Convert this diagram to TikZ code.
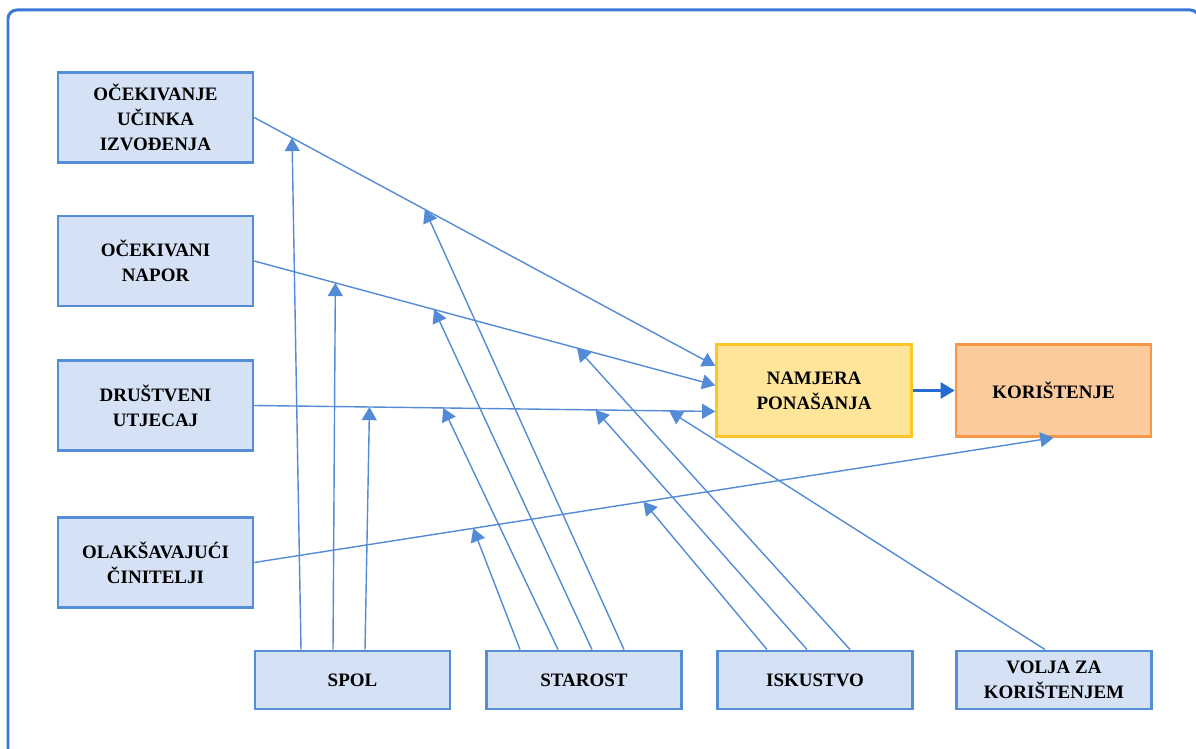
\documentclass[tikz,border=0pt]{standalone}
\usepackage{fontspec}
\setmainfont{Liberation Serif}
\usetikzlibrary{arrows.meta,calc}
\definecolor{okvir}{RGB}{58,120,216}
\definecolor{plavarub}{RGB}{85,142,213}
\definecolor{plavaisp}{RGB}{213,225,244}
\definecolor{strelica}{RGB}{84,139,214}
\definecolor{zutaisp}{RGB}{255,229,153}
\definecolor{zutarub}{RGB}{255,196,37}
\definecolor{narisp}{RGB}{251,203,157}
\definecolor{narrub}{RGB}{247,150,70}
\definecolor{tamnoplava}{RGB}{38,108,208}
\begin{document}
\begin{tikzpicture}[x=0.02cm,y=-0.02cm] % one unit = one pixel of the sketch
\tikzstyle{mybox} = [draw=plavarub, fill=plavaisp, line width=1.4pt, minimum width=3.9cm, minimum height=1.8cm, inner sep=0pt, align=center, font=\bfseries\fontsize{10.8}{14.2}\selectfont] % factor box
\tikzstyle{mysmall} = [mybox, minimum height=1.17cm] % moderator box
\tikzstyle{myarrow} = [draw=strelica, line width=0.8pt, -{Triangle[length=7.5pt,width=8.5pt]}] % thin arrow
\tikzstyle{bigarrow} = [draw=tamnoplava, line width=1.7pt, -{Triangle[length=8pt,width=9pt]}] % intention -> use
\useasboundingbox (0,0) rectangle (1196,749);
\draw[okvir, line width=1.7pt, rounded corners=5pt] (8,770) -- (8,10) -- (1199,10) -- (1199,770); % frame
%
\node[mybox] (ouc) at (155.5,117.5) {OČEKIVANJE\\UČINKA\\IZVOĐENJA};
\node[mybox] (on) at (155.5,261) {OČEKIVANI\\NAPOR};
\node[mybox] (du) at (155.5,405.5) {DRUŠTVENI\\UTJECAJ};
\node[mybox] (oc) at (155.5,562.5) {OLAKŠAVAJUĆI\\ČINITELJI};
\node[mybox, draw=zutarub, fill=zutaisp, minimum height=1.84cm] (np) at (814,390.5) {NAMJERA\\PONAŠANJA};
\node[mybox, draw=narrub, fill=narisp, minimum height=1.84cm] (kor) at (1053.5,390.5) {KORIŠTENJE};
\node[mysmall] (spol) at (352.5,680) {SPOL};
\node[mysmall] (star) at (584,680) {STAROST};
\node[mysmall] (isk) at (815,680) {ISKUSTVO};
\node[mysmall] (volja) at (1054,680) {VOLJA ZA\\KORIŠTENJEM};
%
\draw[myarrow] (ouc.east) -- (np.166);
\draw[myarrow] (on.east) -- (np.177);
\draw[myarrow] (du.east) -- (np.192);
\draw[myarrow] (oc.east) -- (kor.south);
\draw[bigarrow] (np) -- (kor);
% points on the main arrows where the moderators meet them
\coordinate (a1) at ($(ouc.east)!0.082!(np.166)$);
\coordinate (a2) at ($(ouc.east)!0.37!(np.166)$);
\coordinate (b1) at ($(on.east)!0.176!(np.177)$);
\coordinate (b2) at ($(on.east)!0.39!(np.177)$);
\coordinate (b3) at ($(on.east)!0.70!(np.177)$);
\coordinate (c1) at ($(du.east)!0.25!(np.192)$);
\coordinate (c2) at ($(du.east)!0.41!(np.192)$);
\coordinate (c3) at ($(du.east)!0.74!(np.192)$);
\coordinate (c4) at ($(du.east)!0.90!(np.192)$);
\coordinate (d1) at ($(oc.east)!0.274!(kor.south)$);
\coordinate (d2) at ($(oc.east)!0.487!(kor.south)$);
%
\draw[myarrow] ($(spol.north)+(-51.5,0)$) -- (a1); % spol
\draw[myarrow] ($(spol.north)+(-19.5,0)$) -- (b1);
\draw[myarrow] ($(spol.north)+(12.5,0)$) -- (c1);
\draw[myarrow] ($(star.north)+(-64,0)$) -- (d1); % starost
\draw[myarrow] ($(star.north)+(-26,0)$) -- (c2);
\draw[myarrow] ($(star.north)+(8,0)$) -- (b2);
\draw[myarrow] ($(star.north)+(40,0)$) -- (a2);
\draw[myarrow] ($(isk.north)+(-48,0)$) -- (d2); % iskustvo
\draw[myarrow] ($(isk.north)+(-8,0)$) -- (c3);
\draw[myarrow] ($(isk.north)+(35,0)$) -- (b3);
\draw[myarrow] ($(volja.north)+(-9,0)$) -- (c4); % volja
\end{tikzpicture}
\end{document}
